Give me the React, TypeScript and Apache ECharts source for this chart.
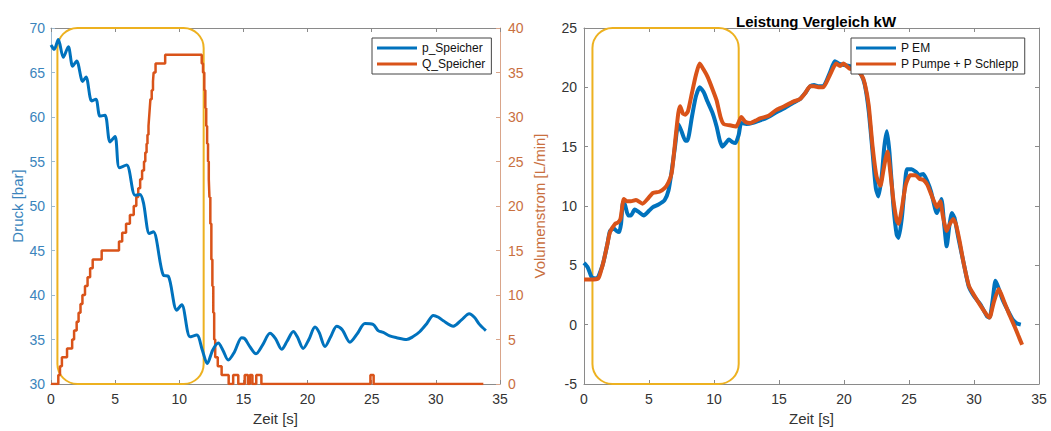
import React, { useEffect, useRef } from "react";
import * as echarts from "echarts";

// ---- Data ----
const timeTicks = { min: 0, max: 35, interval: 5 };

// Left chart: Druck [bar] (p_Speicher), t [s] -> bar
const pSpeicher: [number, number][] = [
  [0, 68.1], [0.25, 67.6], [0.57, 68.7], [0.96, 66.7], [1.35, 67.9], [1.69, 65.7], [2.0, 66.3],
  [2.47, 64.0], [2.73, 64.5], [3.17, 61.8], [3.5, 62.0], [3.82, 60.1], [4.21, 60.2], [4.6, 57.2],
  [4.99, 57.8], [5.33, 54.3], [5.9, 54.6], [6.55, 51.2], [6.94, 51.3], [7.2, 50.4], [7.67, 46.9],
  [7.98, 47.1], [8.76, 42.2], [9.15, 42.1], [9.8, 38.3], [10.19, 38.9], [10.84, 35.3], [11.36, 35.5],
  [11.8, 33.8], [12.18, 32.3], [12.6, 33.8], [13.04, 34.6], [13.4, 33.8], [13.82, 32.7], [14.3, 33.6],
  [14.86, 35.2], [15.1, 35.1], [15.5, 34.2], [15.98, 33.4], [16.5, 34.4], [17.07, 35.7], [17.5, 35.1],
  [17.98, 33.9], [18.4, 34.8], [18.89, 35.9], [19.2, 35.3], [19.66, 34.0], [20.1, 35.0], [20.58, 36.4],
  [20.9, 35.8], [21.36, 34.2], [21.8, 35.3], [22.27, 36.5], [22.7, 36.1], [23.3, 34.7], [23.9, 35.7],
  [24.47, 36.8], [25.1, 36.7], [25.5, 36.0], [25.9, 35.8], [26.4, 35.4], [26.94, 35.2], [27.72, 35.0],
  [28.2, 35.3], [28.76, 35.9], [29.3, 36.8], [29.8, 37.7], [30.2, 37.5], [30.58, 37.1], [31.36, 36.5],
  [32.0, 37.2], [32.6, 37.9], [33.0, 37.5], [33.4, 36.7], [33.9, 36.0],
];

// Left chart: Volumenstrom [L/min] (Q_Speicher), step levels (t, value from t on)
const qSpeicher: [number, number][] = [
  [0, 0], [0.57, 1], [0.7, 2], [0.85, 3], [1.25, 4], [1.65, 5], [1.8, 6], [2.0, 7], [2.15, 8],
  [2.3, 9], [2.45, 10], [2.65, 11], [2.85, 12], [3.05, 13], [3.25, 14], [3.95, 15], [5.3, 16],
  [5.55, 17], [5.85, 18], [6.15, 19], [6.45, 20], [6.65, 21], [6.8, 22], [6.95, 23], [7.1, 24],
  [7.25, 25], [7.35, 26], [7.45, 27], [7.52, 28], [7.6, 29], [7.65, 30], [7.7, 31], [7.75, 32],
  [7.85, 33], [7.95, 34], [8.0, 35], [8.15, 36], [8.9, 37], [11.75, 36], [11.85, 35], [11.95, 33],
  [12.03, 31], [12.1, 29], [12.17, 27], [12.24, 25], [12.3, 23], [12.35, 21], [12.42, 18], [12.5, 14],
  [12.58, 11], [12.65, 8], [12.72, 5], [12.8, 3], [13.0, 2], [13.3, 1], [13.85, 0], [14.2, 1],
  [14.6, 0], [15.1, 1], [15.35, 0], [15.5, 1], [15.7, 0], [16.0, 1], [16.4, 0], [24.9, 1],
  [25.15, 0], [33.7, 0],
];

// Right chart: Leistung [kW]
const pEM: [number, number][] = [
  [0, 5.2], [0.3, 4.8], [0.6, 4.0], [1.0, 3.9], [1.3, 4.6], [1.5, 5.3], [1.8, 6.8], [2.0, 7.9],
  [2.3, 8.1], [2.5, 7.9], [2.7, 7.8], [2.85, 8.5], [3.0, 10.3], [3.15, 10.1], [3.4, 9.2], [3.6, 9.2],
  [3.9, 9.7], [4.2, 9.5], [4.6, 9.2], [5.0, 9.6], [5.3, 9.9], [5.7, 10.1], [6.2, 10.5], [6.5, 11.3],
  [6.75, 13.0], [7.0, 15.0], [7.25, 16.9], [7.5, 16.3], [7.8, 15.5], [7.95, 15.5], [8.3, 17.5],
  [8.6, 19.2], [8.9, 20.0], [9.2, 19.6], [9.5, 18.8], [9.9, 17.8], [10.2, 16.7], [10.45, 15.5],
  [10.65, 15.0], [10.9, 15.3], [11.15, 15.6], [11.4, 15.4], [11.65, 15.3], [11.9, 16.0], [12.1, 17.0],
  [12.5, 16.9], [13.0, 17.0], [13.5, 17.2], [14.0, 17.4], [14.8, 17.9], [15.5, 18.3], [16.1, 18.7],
  [16.6, 19.0], [17.0, 19.5], [17.4, 20.1], [17.7, 20.2], [18.0, 20.1], [18.4, 20.1], [18.9, 21.2],
  [19.3, 22.2], [19.6, 22.0], [19.95, 21.9], [20.4, 21.8], [20.85, 21.6], [21.3, 21.1], [21.6, 20.2],
  [21.9, 18.0], [22.2, 14.5], [22.45, 11.5], [22.65, 10.8], [22.9, 12.5], [23.1, 15.0], [23.3, 16.3],
  [23.5, 14.5], [23.8, 10.0], [24.05, 7.6], [24.2, 7.3], [24.45, 9.0], [24.7, 12.0], [24.85, 13.1],
  [25.2, 13.1], [25.5, 12.9], [25.8, 12.6], [26.1, 12.7], [26.4, 12.1], [26.7, 11.2], [27.0, 9.8],
  [27.15, 9.4], [27.35, 10.0], [27.5, 10.6], [27.7, 8.5], [27.9, 6.6], [28.1, 8.3], [28.3, 9.4],
  [28.5, 9.0], [28.8, 7.3], [29.2, 5.2], [29.6, 3.2], [30.0, 2.4], [30.5, 1.7], [31.0, 0.7],
  [31.2, 0.6], [31.45, 2.2], [31.65, 3.7], [31.85, 3.2], [32.2, 2.1], [32.6, 1.2], [33.0, 0.4],
  [33.3, 0.1], [33.6, 0.0],
];

const pPumpeSchlepp: [number, number][] = [
  [0, 3.8], [0.5, 3.8], [1.1, 3.9], [1.3, 4.5], [1.5, 5.3], [1.8, 6.8], [2.0, 7.8], [2.4, 8.5],
  [2.6, 8.6], [2.8, 8.9], [2.95, 10.0], [3.05, 10.6], [3.3, 10.4], [3.6, 10.4], [4.0, 10.5],
  [4.5, 10.2], [4.9, 10.6], [5.3, 11.1], [5.8, 11.2], [6.2, 11.5], [6.5, 12.0], [6.75, 12.8],
  [7.0, 15.3], [7.25, 17.8], [7.4, 18.4], [7.6, 17.8], [7.8, 17.7], [8.0, 18.0], [8.3, 19.5],
  [8.6, 21.0], [8.9, 22.0], [9.2, 21.5], [9.5, 20.9], [9.9, 19.8], [10.2, 18.9], [10.5, 17.5],
  [10.75, 16.9], [11.2, 16.8], [11.7, 16.7], [11.95, 17.2], [12.1, 17.5], [12.4, 17.1], [12.8, 17.0],
  [13.2, 17.2], [13.6, 17.4], [14.2, 17.6], [14.8, 18.1], [15.4, 18.4], [16.1, 18.8], [16.6, 19.0],
  [17.0, 19.5], [17.4, 20.1], [17.7, 20.1], [18.1, 20.0], [18.4, 20.0], [18.9, 21.0], [19.4, 22.0],
  [19.7, 21.8], [19.95, 22.0], [20.4, 21.6], [20.85, 21.5], [21.36, 21.0], [21.6, 20.3], [21.9, 18.5],
  [22.2, 15.0], [22.5, 12.5], [22.8, 11.7], [23.0, 12.8], [23.2, 14.0], [23.35, 14.6], [23.55, 13.0],
  [23.8, 10.5], [24.05, 8.8], [24.2, 8.5], [24.45, 9.8], [24.75, 11.8], [25.1, 12.6], [25.5, 12.6],
  [25.8, 12.3], [26.1, 12.2], [26.4, 11.8], [26.7, 11.0], [27.0, 10.2], [27.15, 9.9], [27.4, 10.4],
  [27.6, 9.2], [27.9, 7.9], [28.1, 8.4], [28.4, 8.9], [28.6, 8.5], [28.9, 7.0], [29.2, 5.2],
  [29.6, 3.3], [30.0, 2.5], [30.5, 1.6], [31.0, 0.8], [31.2, 0.6], [31.5, 1.8], [31.9, 3.0],
  [32.3, 2.0], [32.7, 0.9], [33.1, -0.1], [33.4, -0.9], [33.7, -1.7],
];

// Highlighted time windows (yellow rounded boxes), in seconds
const highlightLeft: [number, number] = [0.5, 11.9];
const highlightRight: [number, number] = [0.65, 11.9];

// ---- Styles ----
const FONT = "Liberation Sans, Arial, Helvetica, sans-serif";
const BLUE = "#0072BD";
const ORANGE = "#D95319";
const YELLOW = "#EDB120";
const BLUE_TXT = "#3A84BC";
const ORANGE_TXT = "#C9703F";
const AX = "#8a8a8a";
const TXT = "#333333";

export default function App() {
  const ref = useRef<HTMLDivElement>(null);

  useEffect(() => {
    if (!ref.current) return;
    const chart = echarts.init(ref.current, undefined, { renderer: "svg" });

    const tick = (color: string) => ({ show: true, inside: true, length: 4, lineStyle: { color, width: 1 } });
    const line = (color: string) => ({ show: true, onZero: false, lineStyle: { color, width: 1 } });

    const xBottom = (grid: number) => ({
      type: "value", gridIndex: grid, position: "bottom", ...timeTicks,
      name: "Zeit [s]", nameLocation: "middle", nameGap: 27,
      nameTextStyle: { color: TXT, fontSize: 15, fontFamily: FONT },
      axisLine: line(AX), axisTick: tick(AX),
      axisLabel: { color: TXT, fontSize: 14, margin: 8, fontFamily: FONT },
      splitLine: { show: false },
    });
    const xTop = (grid: number) => ({
      type: "value", gridIndex: grid, position: "top", ...timeTicks,
      axisLine: line(AX), axisTick: tick(AX), axisLabel: { show: false }, splitLine: { show: false },
    });

    const legendBase = {
      orient: "vertical", icon: "rect", itemWidth: 40, itemHeight: 3, itemGap: 4,
      padding: [4, 6, 4, 5], borderColor: "#444", borderWidth: 1, backgroundColor: "#fff",
      textStyle: { fontSize: 12, color: "#111", fontFamily: FONT },
    };

    chart.setOption({
      animation: false,
      textStyle: { fontFamily: FONT },
      title: {
        text: "Leistung Vergleich kW", left: 731, top: 9,
        textStyle: { fontSize: 15, fontWeight: "bold", color: "#000", fontFamily: FONT },
      },
      legend: [
        { ...legendBase, data: ["p_Speicher", "Q_Speicher"], left: 372, top: 38 },
        { ...legendBase, data: ["P EM", "P Pumpe + P Schlepp"], left: 851, top: 38 },
      ],
      grid: [
        { left: 51, top: 28, width: 449, height: 358 },
        { left: 584, top: 28, width: 455, height: 358 },
      ],
      xAxis: [xBottom(0), xTop(0), xBottom(1), xTop(1)],
      yAxis: [
        {
          type: "value", gridIndex: 0, position: "left", min: 30, max: 70, interval: 5,
          name: "Druck [bar]", nameLocation: "middle", nameGap: 26,
          nameTextStyle: { color: BLUE_TXT, fontSize: 15, fontFamily: FONT },
          axisLine: line("#9dbad2"), axisTick: tick("#9dbad2"),
          axisLabel: { color: BLUE_TXT, fontSize: 14, margin: 6, fontFamily: FONT },
          splitLine: { show: false },
        },
        {
          type: "value", gridIndex: 0, position: "right", min: 0, max: 40, interval: 5,
          name: "Volumenstrom [L/min]", nameLocation: "middle", nameGap: 32,
          nameTextStyle: { color: ORANGE_TXT, fontSize: 15, fontFamily: FONT },
          axisLine: line("#d9a58a"), axisTick: tick("#d9a58a"),
          axisLabel: { color: ORANGE_TXT, fontSize: 14, margin: 8, fontFamily: FONT },
          splitLine: { show: false },
        },
        {
          type: "value", gridIndex: 1, position: "left", min: -5, max: 25, interval: 5,
          axisLine: line(AX), axisTick: tick(AX),
          axisLabel: { color: TXT, fontSize: 14, margin: 7, fontFamily: FONT },
          splitLine: { show: false },
        },
        {
          type: "value", gridIndex: 1, position: "right", min: -5, max: 25, interval: 5,
          axisLine: line(AX), axisTick: tick(AX), axisLabel: { show: false }, splitLine: { show: false },
        },
      ],
      series: [
        {
          name: "Q_Speicher", type: "line", xAxisIndex: 0, yAxisIndex: 1, data: qSpeicher, step: "end",
          symbol: "none", lineStyle: { color: ORANGE, width: 2.5 }, itemStyle: { color: ORANGE },
        },
        {
          name: "p_Speicher", type: "line", xAxisIndex: 0, yAxisIndex: 0, data: pSpeicher, smooth: 0.3,
          symbol: "none", lineStyle: { color: BLUE, width: 3 }, itemStyle: { color: BLUE },
        },
        {
          name: "P EM", type: "line", xAxisIndex: 2, yAxisIndex: 2, data: pEM, smooth: 0.2,
          symbol: "none", lineStyle: { color: BLUE, width: 4 }, itemStyle: { color: BLUE },
        },
        {
          name: "P Pumpe + P Schlepp", type: "line", xAxisIndex: 2, yAxisIndex: 2, data: pPumpeSchlepp, smooth: 0.2,
          symbol: "none", lineStyle: { color: ORANGE, width: 4 }, itemStyle: { color: ORANGE },
        },
      ],
    });

    const box = (xi: number, yi: number, range: [number, number], yMin: number, yMax: number) => {
      const x1 = chart.convertToPixel({ xAxisIndex: xi }, range[0]) as number;
      const x2 = chart.convertToPixel({ xAxisIndex: xi }, range[1]) as number;
      const y1 = chart.convertToPixel({ yAxisIndex: yi }, yMax) as number;
      const y2 = chart.convertToPixel({ yAxisIndex: yi }, yMin) as number;
      return {
        type: "rect",
        shape: { x: x1, y: y1, width: x2 - x1, height: y2 - y1, r: 20 },
        style: { fill: "none", stroke: YELLOW, lineWidth: 2 },
        silent: true,
        z: 1,
      };
    };
    chart.setOption({
      graphic: [box(0, 0, highlightLeft, 30, 70), box(2, 2, highlightRight, -5, 25)],
    });

    return () => chart.dispose();
  }, []);

  return (
    <div
      ref={ref}
      style={{ position: "absolute", left: 0, top: 0, width: 1051, height: 431, background: "#fff" }}
    />
  );
}
